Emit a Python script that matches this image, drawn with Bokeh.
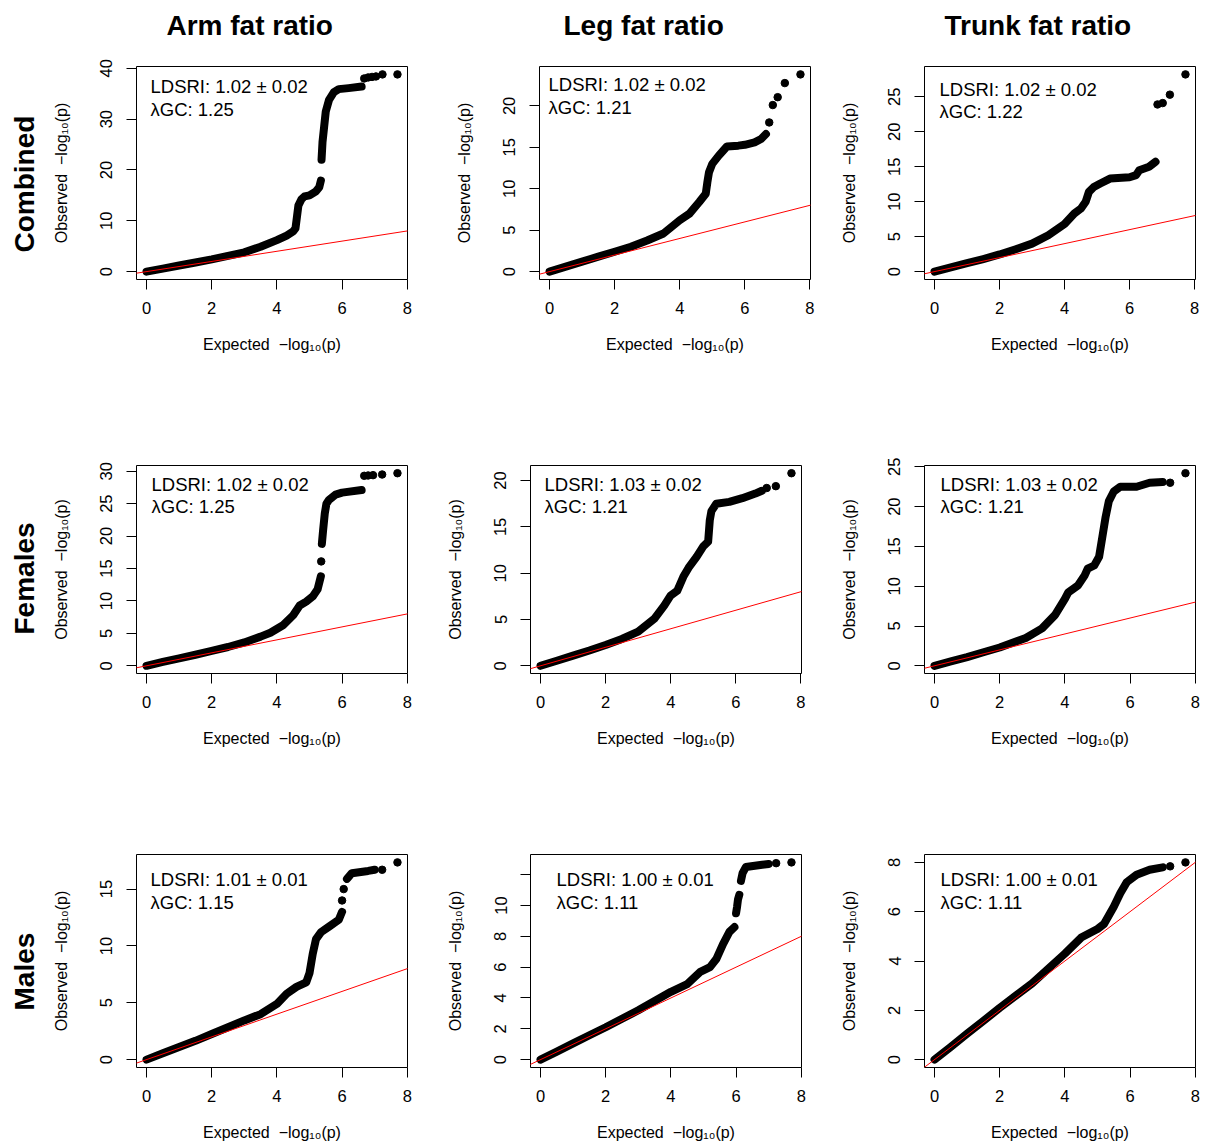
import numpy as np
from bokeh.plotting import figure
from bokeh.layouts import row, column
from bokeh.models import FixedTicker, Slope, Label, Title, Range1d
from bokeh.embed import file_html
from bokeh.resources import INLINE

NaN = float("nan")
FONT = "Liberation Sans"

# ---------------- data ----------------
col_titles = ["Arm fat ratio", "Leg fat ratio", "Trunk fat ratio"]
row_titles = ["Combined", "Females", "Males"]
x_ticks = [0, 2, 4, 6, 8]

# Arm fat ratio, combined
arm_comb_x = [0, 0.5, 1, 1.5, 2, 2.5, 3, 3.5, 4, 4.3, 4.5, 4.57, 4.62, 4.66, 4.75, 4.85, 5.0, 5.2, 5.3, 5.35, NaN,
              5.37, 5.4, 5.45, 5.5, 5.6, 5.75, 5.9, 6.2, 6.6]
arm_comb_y = [0, 0.6, 1.2, 1.8, 2.4, 3.1, 3.8, 4.9, 6.2, 7.1, 7.9, 8.5, 11.0, 13.0, 14.2, 14.8, 15.0, 15.8, 16.6, 17.9, NaN,
              22.0, 25.5, 28.5, 31.5, 33.8, 35.3, 35.9, 36.1, 36.4]
arm_comb_dot_x = [6.68, 6.8, 6.92, 7.04, 7.24, 7.7]
arm_comb_dot_y = [38.0, 38.2, 38.3, 38.4, 38.8, 38.8]
arm_comb_yticks = [0, 10, 20, 30, 40]
arm_comb_yticklabels = ["0", "10", "20", "30", "40"]
arm_comb_ldsri = "LDSRI: 1.02 ± 0.02"
arm_comb_lgc = "λGC: 1.25"

# Leg fat ratio, combined
leg_comb_x = [0, 0.5, 1, 1.5, 2, 2.5, 3, 3.5, 4, 4.3, 4.6, 4.8, 4.85, 4.9, 5.0, 5.2, 5.45, 5.8, 6.0, 6.3, 6.5, 6.65]
leg_comb_y = [0, 0.6, 1.2, 1.8, 2.4, 3.0, 3.75, 4.6, 6.2, 7.0, 8.4, 9.4, 10.8, 12.0, 13.0, 14.0, 15.1, 15.2, 15.3, 15.6, 16.0, 16.6]
leg_comb_dot_x = [6.75, 6.86, 7.01, 7.23, 7.71]
leg_comb_dot_y = [18.0, 20.1, 21.05, 22.75, 23.8]
leg_comb_yticks = [0, 5, 10, 15, 20]
leg_comb_yticklabels = ["0", "5", "10", "15", "20"]
leg_comb_ldsri = "LDSRI: 1.02 ± 0.02"
leg_comb_lgc = "λGC: 1.21"

# Trunk fat ratio, combined
trunk_comb_x = [0, 0.5, 1, 1.5, 2, 2.5, 3, 3.5, 4, 4.3, 4.5, 4.65, 4.75, 4.9, 5.1, 5.4, 6.0, 6.2, 6.3, 6.6, 6.8]
trunk_comb_y = [0, 0.6, 1.2, 1.8, 2.45, 3.2, 4.0, 5.2, 6.8, 8.3, 9.0, 10.0, 11.4, 12.1, 12.6, 13.3, 13.5, 13.8, 14.5, 15.0, 15.7]
trunk_comb_dot_x = [6.86, 7.02, 7.24, 7.72]
trunk_comb_dot_y = [23.9, 24.1, 25.3, 28.2]
trunk_comb_yticks = [0, 5, 10, 15, 20, 25]
trunk_comb_yticklabels = ["0", "5", "10", "15", "20", "25"]
trunk_comb_ldsri = "LDSRI: 1.02 ± 0.02"
trunk_comb_lgc = "λGC: 1.22"

# Arm fat ratio, females
arm_fem_x = [0, 0.5, 1, 1.5, 2, 2.5, 3, 3.5, 3.8, 4.2, 4.5, 4.7, 4.9, 5.1, 5.25, 5.35, NaN,
             5.38, 5.42, 5.47, 5.52, 5.6, 5.8, 6.0, 6.6]
arm_fem_y = [0, 0.6, 1.15, 1.7, 2.3, 2.9, 3.6, 4.5, 5.1, 6.3, 7.8, 9.3, 9.9, 10.7, 11.8, 13.8, NaN,
             18.8, 21.0, 23.5, 25.0, 25.6, 26.4, 26.7, 27.1]
arm_fem_dot_x = [5.36, 6.68, 6.8, 6.95, 7.23, 7.7]
arm_fem_dot_y = [16.1, 29.3, 29.35, 29.4, 29.5, 29.7]
arm_fem_yticks = [0, 5, 10, 15, 20, 25, 30]
arm_fem_yticklabels = ["0", "5", "10", "15", "20", "25", "30"]
arm_fem_ldsri = "LDSRI: 1.02 ± 0.02"
arm_fem_lgc = "λGC: 1.25"

# Leg fat ratio, females
leg_fem_x = [0, 0.5, 1, 1.5, 2, 2.5, 3, 3.5, 3.8, 4.0, 4.2, 4.4, 4.55, 4.8, 5.0, 5.15, 5.2, 5.25, 5.4, 5.8, 6.2, 6.6, 6.8]
leg_fem_y = [0, 0.55, 1.1, 1.65, 2.25, 2.9, 3.7, 5.1, 6.5, 7.6, 8.1, 9.7, 10.6, 11.8, 12.9, 13.4, 15.7, 16.7, 17.5, 17.7, 18.1, 18.6, 18.9]
leg_fem_dot_x = [6.95, 7.23, 7.71]
leg_fem_dot_y = [19.2, 19.4, 20.8]
leg_fem_yticks = [0, 5, 10, 15, 20]
leg_fem_yticklabels = ["0", "5", "10", "15", "20"]
leg_fem_ldsri = "LDSRI: 1.03 ± 0.02"
leg_fem_lgc = "λGC: 1.21"

# Trunk fat ratio, females
trunk_fem_x = [0, 0.5, 1, 1.5, 2, 2.8, 3.3, 3.7, 4.0, 4.1, 4.4, 4.6, 4.7, 4.9, 5.05, 5.15, 5.25, 5.35, 5.5, 5.7, 6.2, 6.6, 7.0]
trunk_fem_y = [0, 0.55, 1.1, 1.7, 2.3, 3.5, 4.7, 6.4, 8.4, 9.2, 10.1, 11.3, 12.2, 12.6, 13.7, 16.2, 18.7, 20.7, 21.9, 22.5, 22.5, 23.0, 23.1]
trunk_fem_dot_x = [7.23, 7.7]
trunk_fem_dot_y = [23.0, 24.2]
trunk_fem_yticks = [0, 5, 10, 15, 20, 25]
trunk_fem_yticklabels = ["0", "5", "10", "15", "20", "25"]
trunk_fem_ldsri = "LDSRI: 1.03 ± 0.02"
trunk_fem_lgc = "λGC: 1.21"

# Arm fat ratio, males
arm_male_x = [0, 0.5, 1, 1.5, 2, 2.5, 3, 3.5, 4, 4.3, 4.6, 4.9, 5.0, 5.1, 5.2, 5.35, 5.6, 5.9, 6.0, NaN,
              6.15, 6.3, 6.8, 7.0]
arm_male_y = [0, 0.55, 1.1, 1.65, 2.25, 2.85, 3.45, 4.0, 4.9, 5.8, 6.4, 6.8, 7.6, 9.3, 10.6, 11.2, 11.7, 12.3, 13.0, NaN,
              15.9, 16.4, 16.6, 16.7]
arm_male_dot_x = [6.0, 6.05, 7.23, 7.7]
arm_male_dot_y = [14.0, 15.0, 16.7, 17.35]
arm_male_yticks = [0, 5, 10, 15]
arm_male_yticklabels = ["0", "5", "10", "15"]
arm_male_ldsri = "LDSRI: 1.01 ± 0.01"
arm_male_lgc = "λGC: 1.15"

# Leg fat ratio, males
leg_male_x = [0, 0.5, 1, 1.5, 2, 2.5, 3, 3.5, 4, 4.5, 4.9, 5.2, 5.4, 5.6, 5.8, 5.95, NaN,
              6.0, 6.03, 6.06, 6.1, NaN, 6.15, 6.2, 6.25, 6.3, 6.8, 7.0]
leg_male_y = [0, 0.52, 1.05, 1.58, 2.1, 2.65, 3.2, 3.8, 4.4, 4.9, 5.7, 6.0, 6.55, 7.5, 8.3, 8.6, NaN,
              9.5, 9.9, 10.4, 10.7, NaN, 11.6, 12.1, 12.3, 12.5, 12.65, 12.7]
leg_male_dot_x = [7.23, 7.7]
leg_male_dot_y = [12.75, 12.8]
leg_male_yticks = [0, 2, 4, 6, 8, 10, 12]
leg_male_yticklabels = ["0", "2", "4", "6", "8", "10", ""]
leg_male_ldsri = "LDSRI: 1.00 ± 0.01"
leg_male_lgc = "λGC: 1.11"

# Trunk fat ratio, males
trunk_male_x = [0, 0.5, 1, 1.5, 2, 2.5, 3, 3.5, 4, 4.5, 5.0, 5.2, 5.5, 5.7, 5.9, 6.2, 6.6, 7.0]
trunk_male_y = [0, 0.52, 1.05, 1.57, 2.1, 2.6, 3.1, 3.7, 4.3, 4.95, 5.3, 5.5, 6.2, 6.75, 7.2, 7.5, 7.7, 7.8]
trunk_male_dot_x = [7.23, 7.7]
trunk_male_dot_y = [7.84, 8.0]
trunk_male_yticks = [0, 2, 4, 6, 8]
trunk_male_yticklabels = ["0", "2", "4", "6", "8"]
trunk_male_ldsri = "LDSRI: 1.00 ± 0.01"
trunk_male_lgc = "λGC: 1.11"

panels = [
    [(arm_comb_x, arm_comb_y, arm_comb_dot_x, arm_comb_dot_y, arm_comb_yticks, arm_comb_yticklabels, arm_comb_ldsri, arm_comb_lgc),
     (leg_comb_x, leg_comb_y, leg_comb_dot_x, leg_comb_dot_y, leg_comb_yticks, leg_comb_yticklabels, leg_comb_ldsri, leg_comb_lgc),
     (trunk_comb_x, trunk_comb_y, trunk_comb_dot_x, trunk_comb_dot_y, trunk_comb_yticks, trunk_comb_yticklabels, trunk_comb_ldsri, trunk_comb_lgc)],
    [(arm_fem_x, arm_fem_y, arm_fem_dot_x, arm_fem_dot_y, arm_fem_yticks, arm_fem_yticklabels, arm_fem_ldsri, arm_fem_lgc),
     (leg_fem_x, leg_fem_y, leg_fem_dot_x, leg_fem_dot_y, leg_fem_yticks, leg_fem_yticklabels, leg_fem_ldsri, leg_fem_lgc),
     (trunk_fem_x, trunk_fem_y, trunk_fem_dot_x, trunk_fem_dot_y, trunk_fem_yticks, trunk_fem_yticklabels, trunk_fem_ldsri, trunk_fem_lgc)],
    [(arm_male_x, arm_male_y, arm_male_dot_x, arm_male_dot_y, arm_male_yticks, arm_male_yticklabels, arm_male_ldsri, arm_male_lgc),
     (leg_male_x, leg_male_y, leg_male_dot_x, leg_male_dot_y, leg_male_yticks, leg_male_yticklabels, leg_male_ldsri, leg_male_lgc),
     (trunk_male_x, trunk_male_y, trunk_male_dot_x, trunk_male_dot_y, trunk_male_yticks, trunk_male_yticklabels, trunk_male_ldsri, trunk_male_lgc)],
]

# ---------------- layout (pixels) ----------------
# per row: (height, top border per column, bottom border)
row_geom = [
    (357, [66, 66, 66], 78),
    (394, [108, 104, 104], 78),
    (394, [103, 103, 103], 78),
]
# per row: list of (width, left border, right border) per column
col_geom = [
    [(438, 136, 31), (386, 101, 14), (382, 100, 11)],
    [(438, 136, 31), (386, 92, 23), (382, 100, 11)],
    [(438, 136, 31), (386, 92, 23), (382, 100, 11)],
]
# annotation text offsets (left, baseline from frame top)
text_pos = [
    [(14, 20), (9, 18), (15, 22.5)],
    [(15, 18.5), (14, 22.5), (16, 22.5)],
    [(14, 25), (26, 25), (16, 25)],
]
title_offsets = [30, 24, 20]
row_title_offsets = [27, 39, 57]


def make_panel(i, j):
    cx, cy, dx, dy, yt, ytl, t1, t2 = panels[i][j]
    cx = np.array(cx, dtype=float)
    cy = np.array(cy, dtype=float)
    dx = np.array(dx, dtype=float)
    dy = np.array(dy, dtype=float)
    allx = np.concatenate([cx[~np.isnan(cx)], dx])
    ally = np.concatenate([cy[~np.isnan(cy)], dy])
    x0, x1 = allx.min(), allx.max()
    y0, y1 = ally.min(), ally.max()
    px = 0.04 * (x1 - x0)
    py = 0.04 * (y1 - y0)

    H, tops, B = row_geom[i]
    W, L, R = col_geom[i][j]
    T = tops[j]
    p = figure(width=W, height=H, output_backend="svg", toolbar_location=None, tools="",
               title=None,
               x_range=Range1d(x0 - px, x1 + px), y_range=Range1d(y0 - py, y1 + py),
               min_border_left=L, min_border_right=R, min_border_top=T, min_border_bottom=B)
    p.grid.visible = False
    p.outline_line_color = "black"
    p.outline_line_width = 1
    p.background_fill_color = "white"
    p.border_fill_color = "white"

    p.line(cx, cy, line_color="black", line_width=8, line_cap="round", line_join="round")
    p.scatter(dx, dy, size=7.5, fill_color="black", line_color="black")
    p.add_layout(Slope(gradient=1, y_intercept=0, line_color="red", line_width=1))

    for ax in (p.xaxis[0], p.yaxis[0]):
        ax.axis_line_color = None
        ax.major_tick_out = 10
        ax.major_tick_in = 0
        ax.minor_tick_out = 0
        ax.minor_tick_in = 0
        ax.major_tick_line_color = "black"
        ax.major_label_text_font = FONT
        ax.major_label_text_font_size = "16.5px"
        ax.major_label_text_color = "black"
        ax.axis_label_text_font = FONT
        ax.axis_label_text_font_size = "16px"
        ax.axis_label_text_font_style = "normal"
        ax.axis_label_text_color = "black"
    p.xaxis.ticker = FixedTicker(ticks=x_ticks)
    p.yaxis.ticker = FixedTicker(ticks=yt)
    p.yaxis.major_label_overrides = {t: lab for t, lab in zip(yt, ytl)}
    p.xaxis.axis_label = "Expected \u00a0\u2212log\u2081\u2080(p)"
    p.yaxis.axis_label = "Observed \u00a0\u2212log\u2081\u2080(p)"
    p.xaxis.major_label_standoff = 12
    p.xaxis.axis_label_standoff = 19
    p.yaxis.major_label_standoff = 14
    p.yaxis.axis_label_standoff = 28
    p.yaxis.major_label_orientation = "vertical"

    fh = H - T - B
    lx, ly = text_pos[i][j]
    for k, txt in enumerate((t1, t2)):
        p.add_layout(Label(x=lx, y=fh - ly - 22.5 * k, x_units="screen", y_units="screen",
                           text=txt, text_font=FONT, text_font_size="18.5px",
                           text_color="black", text_baseline="alphabetic"))

    if i == 0:
        # thin spacer panel between frame and column title
        p.add_layout(Title(text=" ", text_font_size="1px", standoff=16), "above")
        p.add_layout(Title(text=col_titles[j], align="left", vertical_align="top",
                           offset=title_offsets[j], standoff=10,
                           text_font=FONT, text_font_size="28px", text_font_style="bold",
                           text_color="black"), "above")
    if j == 0:
        p.add_layout(Title(text=row_titles[i], align="left", vertical_align="top",
                           offset=row_title_offsets[i], standoff=16,
                           text_font=FONT, text_font_size="28px", text_font_style="bold",
                           text_color="black"), "left")
    return p


rows = []
for i in range(3):
    rows.append(row(*[make_panel(i, j) for j in range(3)], spacing=0))
layout = column(*rows, spacing=0)

open("out.html", "w").write(file_html(layout, INLINE))
